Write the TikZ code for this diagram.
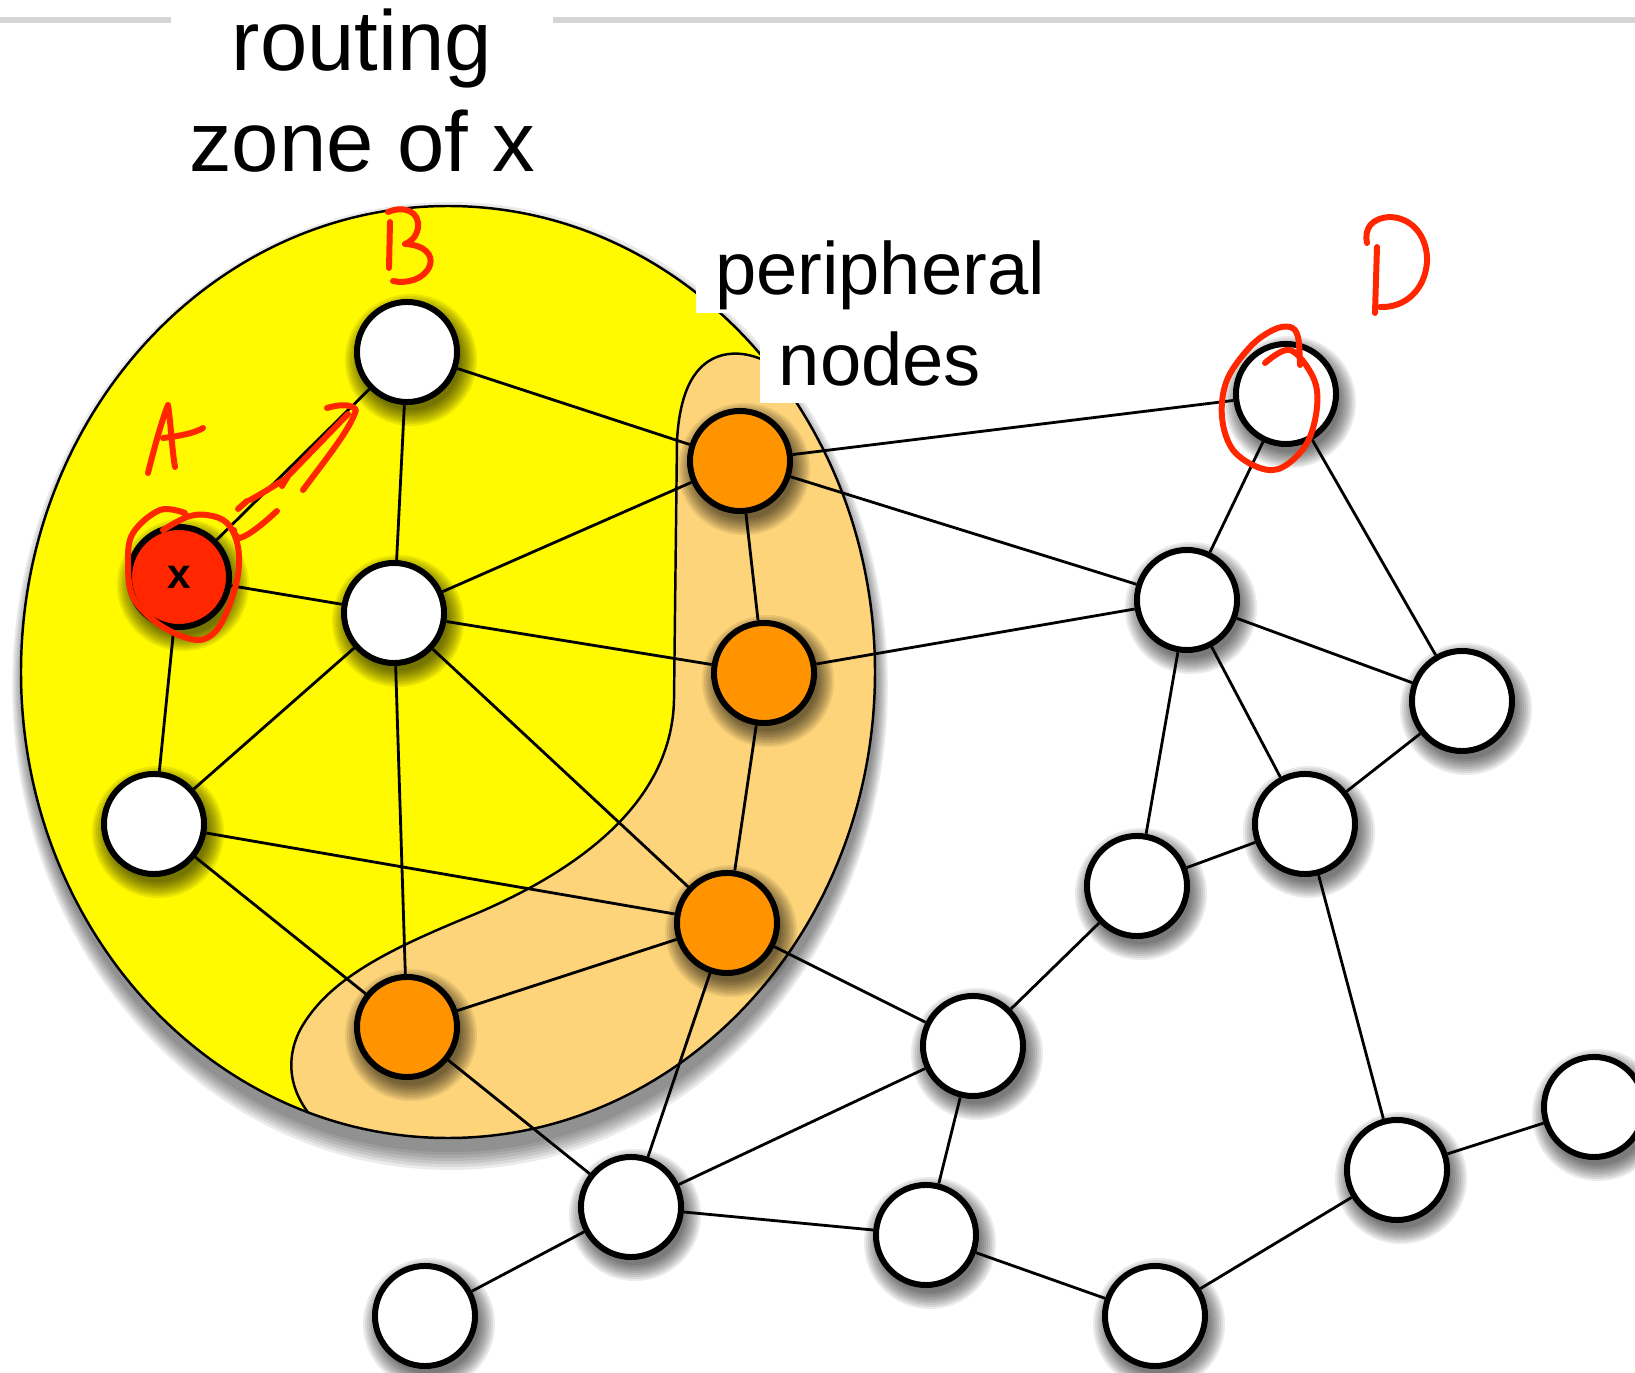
\documentclass[tikz,border=0pt]{standalone}
\usepackage{fontspec}
\setmainfont{Liberation Sans}
\usetikzlibrary{positioning}
\definecolor{zoneyellow}{RGB}{255,250,0}
\definecolor{periorange}{RGB}{253,212,122}
\definecolor{nodeorange}{RGB}{255,147,0}
\definecolor{nodered}{RGB}{255,38,0}
\definecolor{penred}{RGB}{255,38,0}
\definecolor{rulegray}{RGB}{213,213,213}
\pgfdeclarelayer{zone}
\pgfdeclarelayer{links}
\pgfsetlayers{zone,links,main}
\begin{document}
\begin{tikzpicture}[x=0.01cm,y=-0.01cm,
host/.style={draw,circle,fill=white,line width=1.7pt,minimum size=1cm,inner sep=0pt},
peri/.style={host,fill=nodeorange},
link/.style={line width=0.8pt},
haze/.style={black,opacity=0.08},
pen/.style={penred,line width=1.7pt,line cap=round,line join=round},
title/.style={anchor=base,inner sep=0pt,font=\fontsize{24.2}{28}\selectfont},
caption/.style={fill=white,inner xsep=5.4pt,inner ysep=0pt,outer sep=0pt,font=\fontsize{21.1}{25}\selectfont}]
\useasboundingbox (0,0) rectangle (1635,1373);

\begin{pgfonlayer}{zone}
\draw[rulegray,line width=1.7pt] (0,20) -- (1635,20);
\fill[white] (171,0) rectangle (553,192);
\foreach \r in {0,3,...,18}
  \fill[haze] (450,686) ellipse [x radius=427+0.6*\r,y radius=466+\r];
\fill[zoneyellow] (448,672) ellipse [x radius=427,y radius=466];
\begin{scope}
\clip (448,672) ellipse [x radius=427,y radius=466];
\draw[fill=periorange,line width=0.7pt] (800,385) .. controls (770,358) and (745,350) .. (723,355) .. controls (695,362) and (680,390) .. (677,440) -- (674,700) .. controls (672,790) and (600,860) .. (480,912) .. controls (400,945) and (330,975) .. (300,1030) .. controls (285,1060) and (290,1090) .. (310,1115) -- (300,1300) -- (1000,1300) -- (1000,300) -- cycle;
\end{scope}
\draw[line width=0.7pt] (448,672) ellipse [x radius=427,y radius=466];
\end{pgfonlayer}

\draw (362,71) node[title] (zonetitle) {routing};
\draw (362,172) node[title] (zonesub) {zone of x};

\draw (179,577) node[host,fill=nodered,font=\bfseries\fontsize{12}{12}\selectfont] (src) {x};
\draw (407,352) node[host] (zb) {};
\draw (394,613) node[host] (zc) {};
\draw (154,824) node[host] (zl) {};
\draw (740,461) node[peri] (per1) {};
\draw (764,673) node[peri] (per2) {};
\draw (727,923) node[peri] (per3) {};
\draw (407,1027) node[peri] (per4) {};
\draw (1286,394) node[host] (dst) {};
\draw (1187,600) node[host] (o1) {};
\draw (1462,701) node[host] (o2) {};
\draw (1305,824) node[host] (o3) {};
\draw (1137,886) node[host] (o4) {};
\draw (973,1046) node[host] (o5) {};
\draw (631,1207) node[host] (o6) {};
\draw (926,1235) node[host] (o7) {};
\draw (425,1316) node[host] (o8) {};
\draw (1155,1316) node[host] (o9) {};
\draw (1397,1170) node[host] (o10) {};
\draw (1594,1107) node[host] (o11) {};

\begin{pgfonlayer}{links}
\foreach \n in {src,zb,zc,zl,per1,per2,per3,per4,dst,o1,o2,o3,o4,o5,o6,o7,o8,o9,o10,o11}
  \foreach \r in {50,52,...,66}
    \fill[haze] ([shift={(4,8)}]\n.center) circle [radius=\r];
\draw[link] (src) -- (zb);
\draw[link] (src) -- (zc);
\draw[link] (src) -- (zl);
\draw[link] (zb) -- (zc);
\draw[link] (zb) -- (per1);
\draw[link] (zc) -- (per1);
\draw[link] (zc) -- (per2);
\draw[link] (zc) -- (per3);
\draw[link] (zc) -- (per4);
\draw[link] (zc) -- (zl);
\draw[link] (zl) -- (per3);
\draw[link] (zl) -- (per4);
\draw[link] (per1) -- (per2);
\draw[link] (per2) -- (per3);
\draw[link] (per3) -- (per4);
\draw[link] (per1) -- (dst);
\draw[link] (per1) -- (o1);
\draw[link] (per2) -- (o1);
\draw[link] (per3) -- (o5);
\draw[link] (per3) -- (o6);
\draw[link] (per4) -- (o6);
\draw[link] (dst) -- (o1);
\draw[link] (dst) -- (o2);
\draw[link] (o1) -- (o2);
\draw[link] (o1) -- (o3);
\draw[link] (o1) -- (o4);
\draw[link] (o2) -- (o3);
\draw[link] (o3) -- (o4);
\draw[link] (o3) -- (o10);
\draw[link] (o4) -- (o5);
\draw[link] (o5) -- (o6);
\draw[link] (o5) -- (o7);
\draw[link] (o6) -- (o7);
\draw[link] (o6) -- (o8);
\draw[link] (o7) -- (o9);
\draw[link] (o9) -- (o10);
\draw[link] (o10) -- (o11);
\end{pgfonlayer}

\draw (880,295) node[caption,anchor=base] (peritop) {\rule[-5.1pt]{0pt}{25.6pt}peripheral};
\node[caption,below=0pt of peritop] (peribot) {\rule[-5.1pt]{0pt}{25.6pt}nodes};

\draw[pen] (148,473) .. controls (155,445) and (162,420) .. (168,405) .. controls (171,425) and (172,450) .. (175,467);
\draw[pen] (163,438) .. controls (180,436) and (195,433) .. (203,428);
\draw[pen] (390,222) -- (389,268);
\draw[pen] (388,212) .. controls (405,205) and (420,212) .. (418,228) .. controls (416,238) and (410,242) .. (405,244) .. controls (425,245) and (433,255) .. (430,265) .. controls (425,280) and (405,284) .. (393,281);
\draw[pen] (1367,243) .. controls (1364,228) and (1372,218) .. (1390,217) .. controls (1415,218) and (1428,240) .. (1427,262) .. controls (1425,290) and (1405,308) .. (1380,307);
\draw[pen] (1377,247) -- (1375,313);
\draw[pen] plot[smooth,tension=0.6] coordinates {(185,513) (160,510) (133,533) (128,563) (133,597) (157,623) (187,638) (207,638) (223,620) (237,580) (238,547) (227,523) (207,515) (187,517) (163,530)};
\draw[pen] plot[smooth,tension=0.6] coordinates {(1265,363) (1290,350) (1313,377) (1317,407) (1307,443) (1283,467) (1260,468) (1233,450) (1222,417) (1227,380) (1250,347) (1273,330) (1290,327) (1298,337) (1300,365)};
\draw[pen] (238,509) -- (247,501);
\draw[pen] (250,500) .. controls (265,492) and (275,485) .. (287,478);
\draw[pen] (282,486) -- (288,476) -- (348,414);
\draw[pen] (327,408) .. controls (340,404) and (352,404) .. (356,410) .. controls (350,430) and (325,460) .. (303,490);
\draw[pen] (277,511) .. controls (265,522) and (250,535) .. (240,538) .. controls (236,537) and (234,534) .. (234,530);
\end{tikzpicture}
\end{document}
